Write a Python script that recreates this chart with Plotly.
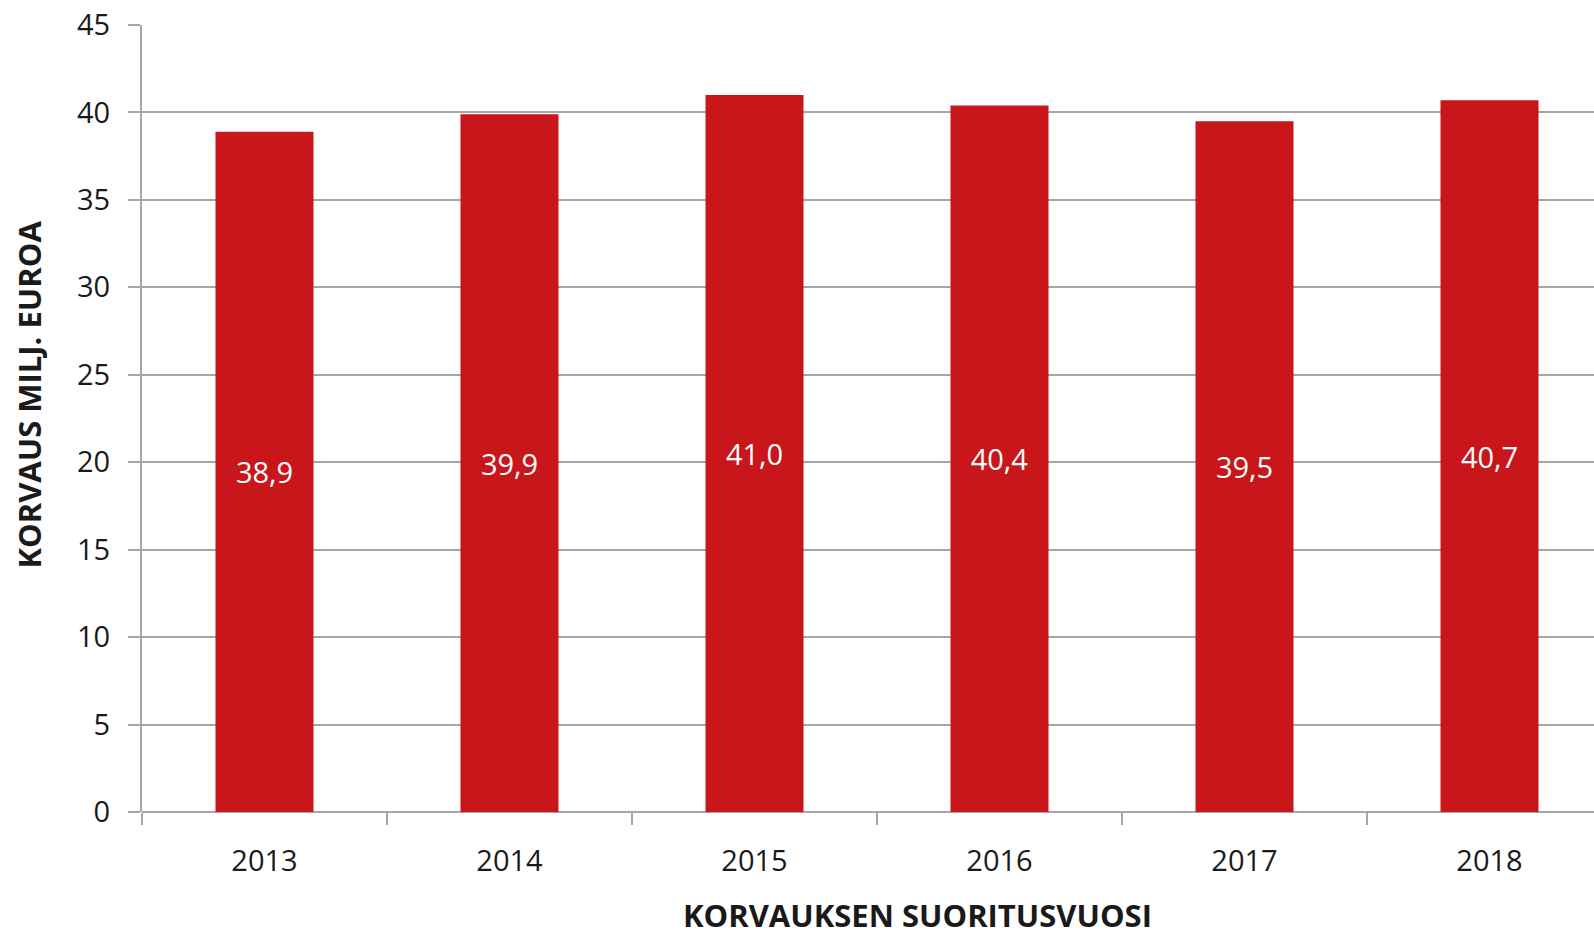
import plotly.graph_objects as go

years = ["2013", "2014", "2015", "2016", "2017", "2018"]
values = [38.9, 39.9, 41.0, 40.4, 39.5, 40.7]
labels = ["38,9", "39,9", "41,0", "40,4", "39,5", "40,7"]
y_ticks = [0, 5, 10, 15, 20, 25, 30, 35, 40, 45]

W, H = 1594, 937
L, R, T, B = 142, 0, 25, 125
FONT = "Open Sans"
GRID = "#a6a6a6"
TXT = "#1a1a1a"

fig = go.Figure(go.Bar(
    x=years, y=values, text=labels,
    textposition="inside", insidetextanchor="middle",
    textfont=dict(family=FONT, size=29, color="white"),
    marker=dict(color="#c8161b", line=dict(width=0)),
    width=0.4,
))

plot_w = W - L - R
cat_px = 245.0
fig.update_layout(
    width=W, height=H,
    margin=dict(l=L, r=R, t=T, b=B, pad=0, autoexpand=False),
    paper_bgcolor="white", plot_bgcolor="white",
    showlegend=False,
    font=dict(family=FONT, color=TXT),
    xaxis=dict(
        type="category", automargin=False,
        range=[-0.5, -0.5 + plot_w / cat_px],
        showgrid=False, showline=False, zeroline=False,
        ticks="outside", tickson="boundaries", ticklen=12, tickwidth=2, tickcolor=GRID,
        tickfont=dict(family=FONT, size=29, color=TXT),
        ticklabelstandoff=29, ticklabeloverflow="allow",
    ),
    yaxis=dict(
        range=[0, 45], tickvals=y_ticks, automargin=False,
        showgrid=True, gridcolor=GRID, gridwidth=2,
        showline=True, linecolor=GRID, linewidth=2,
        zeroline=True, zerolinecolor=GRID, zerolinewidth=2,
        ticks="outside", ticklen=12, tickwidth=2, tickcolor=GRID,
        tickfont=dict(family=FONT, size=29, color=TXT),
        ticklabelstandoff=12, ticklabeloverflow="allow",
    ),
    annotations=[
        dict(text="<b>KORVAUS MILJ. EUROA</b>", xref="paper", yref="paper",
             x=0, y=0.5, xanchor="center", yanchor="middle",
             xshift=-(L - 28), yshift=24, textangle=-90, showarrow=False,
             font=dict(family=FONT, size=31, color=TXT)),
        dict(text="<b>KORVAUKSEN SUORITUSVUOSI</b>", xref="paper", yref="paper",
             x=(917 - L) / plot_w, y=0, xanchor="center", yanchor="middle",
             yshift=-(915 - (H - B)), showarrow=False,
             font=dict(family=FONT, size=31, color=TXT)),
    ],
)

fig.write_html(
    "out.html",
    config={"displayModeBar": False},
    post_script="document.body.style.margin='0';document.body.style.overflow='hidden';",
)
